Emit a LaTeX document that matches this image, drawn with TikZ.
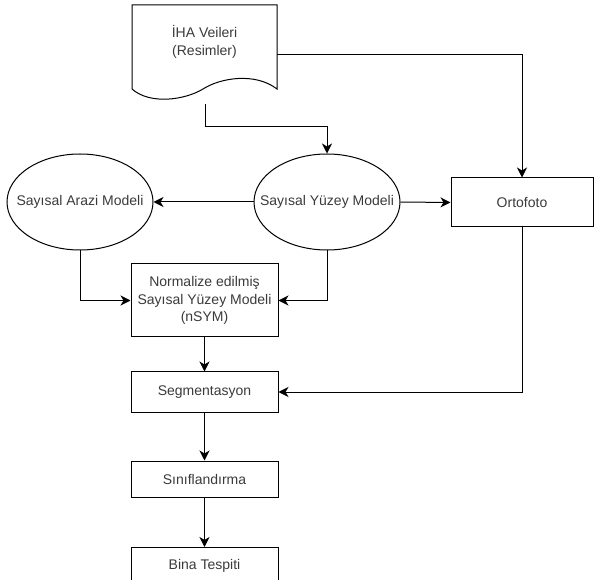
\documentclass[tikz,border=0pt]{standalone}
\usepackage{fontspec}
\setmainfont{Liberation Sans}
\usetikzlibrary{arrows.meta,shapes.geometric}
\definecolor{txt}{HTML}{3a3a3a}
\tikzset{
  lbl/.style={text=txt, font=\fontsize{14}{17.5}\selectfont, align=center, inner sep=0pt},
  box/.style={draw, line width=1pt, rectangle, minimum height=#1, lbl},
  oval/.style={draw, line width=1pt, ellipse, minimum width=146pt, minimum height=96pt, inner sep=0pt},
  conn/.style={line width=1pt, -{Stealth[length=10pt,width=10pt,inset=3pt]}},
}
\begin{document}
\begin{tikzpicture}[x=1pt,y=-1pt]
\useasboundingbox (0,0) rectangle (595,580);
\clip (0,0) rectangle (595,580);
% document shape
\draw[line width=1pt] (132,5) -- (277,5) -- (277,89)
  .. controls (255,72) and (220,78) .. (203,89)
  .. controls (185,100) and (150,105) .. (132,89) -- cycle;
\node[lbl] (doc) at (204.5,42) {İHA Veileri\\(Resimler)};
\coordinate (docB) at (205,104);
\coordinate (docR) at (277,55);

\node[oval] (sam) at (80,202) {};
\node[lbl] (samt) at (sam) {Sayısal Arazi Modeli};
\node[oval] (sym) at (327,202) {};
\node[lbl] (symt) at (sym) {Sayısal Yüzey Modeli};
\node[box=49pt, minimum width=142pt] (orto) at (522,202.5) {Ortofoto};
\node[box=73pt, minimum width=147pt] (nsym) at (204.5,300.5) {Normalize edilmiş\\Sayısal Yüzey Modeli\\(nSYM)};
\node[box=40pt, minimum width=147pt] (seg) at (204.5,392) {Segmentasyon};
\node[box=36pt, minimum width=147pt] (sin) at (204.5,479) {Sınıflandırma};
\node[box=36pt, minimum width=147pt, anchor=north] (bina) at (204.5,547) {Bina Tespiti};

\draw[conn] (docB) -- (205,127) -| (sym.north);
\draw[conn] (docR) -| (orto.north);
\draw[conn] (sym.west) -- (sam.east);
\draw[conn] (sym.east) -- (orto.west);
\draw[conn] (sam.south) |- (nsym.west);
\draw[conn] (sym.south) |- (nsym.east);
\draw[conn] (nsym.south) -- (seg.north);
\draw[conn] (orto.south) |- (seg.east);
\draw[conn] (seg.south) -- (sin.north);
\draw[conn] (sin.south) -- (bina.north);
\end{tikzpicture}
\end{document}
